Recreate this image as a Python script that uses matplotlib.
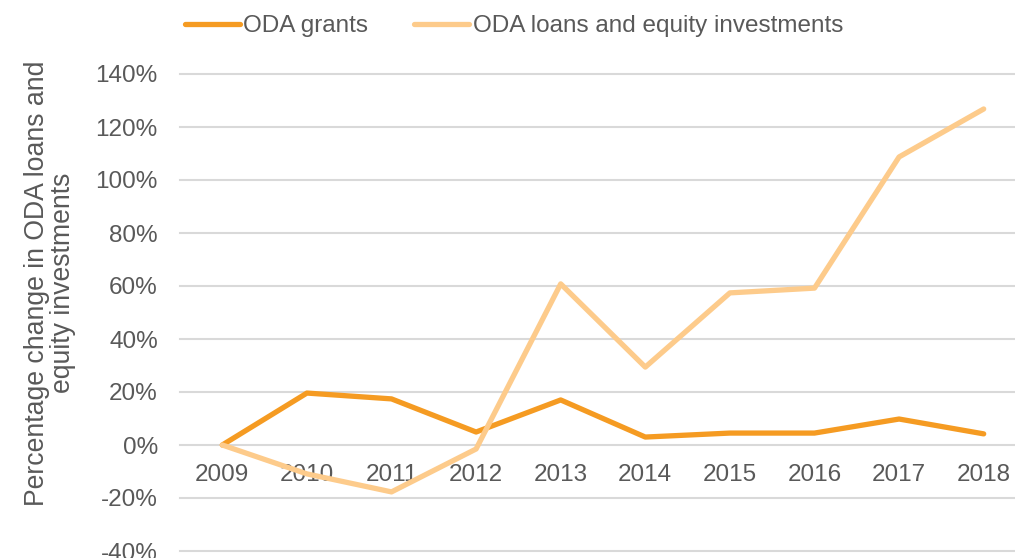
import matplotlib.pyplot as plt
from matplotlib.ticker import FuncFormatter

years = ['2009', '2010', '2011', '2012', '2013', '2014', '2015', '2016', '2017', '2018']
grants = [0, 19.6, 17.4, 4.9, 17.0, 3.0, 4.5, 4.5, 9.8, 4.2]
loans = [0, -10.9, -17.7, -1.5, 60.8, 29.4, 57.4, 59.2, 108.7, 126.8]
yticks = [-40, -20, 0, 20, 40, 60, 80, 100, 120, 140]

grey = '#595959'
plt.rcParams['font.family'] = ['Liberation Sans', 'DejaVu Sans']

fig = plt.figure(figsize=(10.15, 5.58), dpi=100)
ax = fig.add_axes([180 / 1015, 7 / 558, 835 / 1015, 477 / 558])

x = list(range(len(years)))
ax.plot(x, grants, color='#F59B22', lw=3.8, label='ODA grants', solid_capstyle='round', zorder=3)
ax.plot(x, loans, color='#FDCB8B', lw=3.8, label='ODA loans and equity investments',
        solid_capstyle='round', zorder=3)

ax.set_ylim(-40, 140)
ax.set_xlim(-0.5, 9.37)
ax.set_yticks(yticks)
ax.yaxis.set_major_formatter(FuncFormatter(lambda v, p: '%d%%' % v))
ax.set_xticks(x)
ax.set_xticklabels(years)

for s in ['top', 'right', 'left']:
    ax.spines[s].set_visible(False)
ax.spines['bottom'].set_position(('data', 0))
ax.spines['bottom'].set_visible(False)

ax.grid(axis='y', color='#D9D9D9', lw=1.5)
ax.set_axisbelow(True)
for gl in ax.get_ygridlines():
    gl.set_clip_on(False)
ax.tick_params(axis='both', length=0, labelsize=17.5, labelcolor=grey)
ax.tick_params(axis='y', pad=16)
ax.tick_params(axis='x', pad=14)

fig.text(50 / 1015, 1 - 283 / 558, 'Percentage change in ODA loans and\nequity investments',
         rotation=90, ha='center', va='center', fontsize=19.2, color=grey, linespacing=0.95)

fig.legend(loc='center', bbox_to_anchor=(514 / 1015, 1 - 26 / 558), ncol=2, frameon=False,
           fontsize=17.5, handlelength=2.25, handletextpad=0.15, columnspacing=1.9,
           labelcolor=grey)

fig.savefig('out.png', dpi=100)
